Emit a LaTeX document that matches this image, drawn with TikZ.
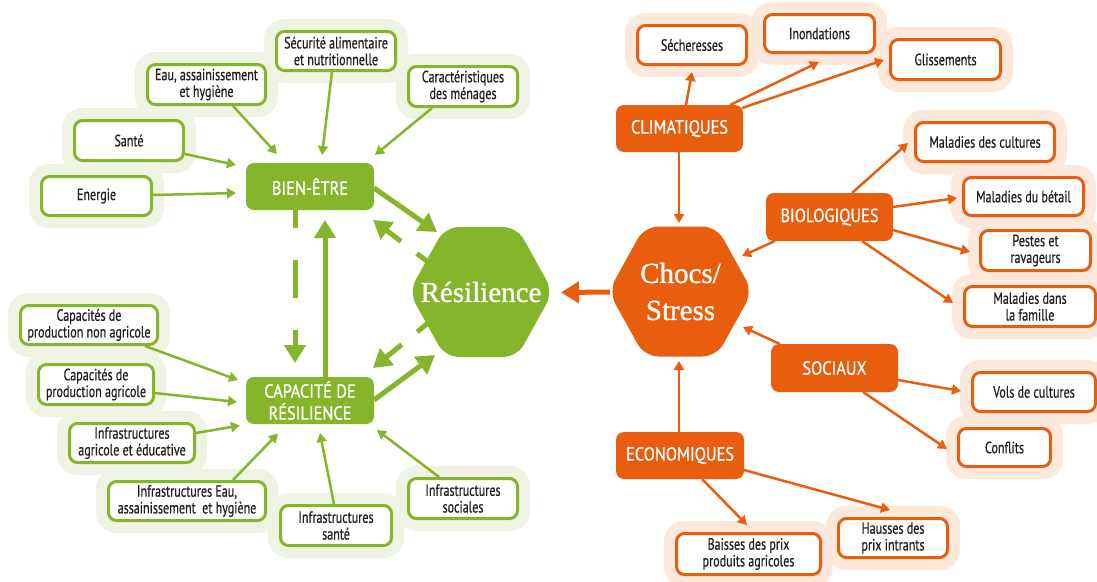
\documentclass[tikz,border=0pt]{standalone}
\usepackage{fontspec}
\setmainfont{PT Sans}[FakeStretch=0.74, FakeBold=0.6]
\newfontfamily\mainlab{PT Sans}[FakeStretch=0.86, FakeBold=0.9]
\newfontfamily\hexfont{Liberation Serif}[FakeBold=1.0]
\usetikzlibrary{calc,arrows.meta,backgrounds}
\definecolor{eugreen}{RGB}{133,181,42}
\definecolor{euorange}{RGB}{233,93,15}
\definecolor{ghalo}{RGB}{238,243,227}
\definecolor{ohalo}{RGB}{253,233,220}
\definecolor{txt}{RGB}{35,31,32}
\begin{document}
\begin{tikzpicture}[x=1pt,y=-1pt,
  sz/.style 2 args={minimum width=#1pt-3pt, minimum height=#2pt-3pt},
  lbox/.style={draw, line width=3pt, fill=white, rounded corners=8pt, align=center,
    font=\fontsize{16.3}{16.7}\selectfont, text=txt, inner sep=0pt, outer sep=0pt},
  gbox/.style={lbox, draw=eugreen},
  obox/.style={lbox, draw=euorange},
  mbox/.style={rounded corners=8pt, align=center, font=\mainlab\fontsize{19}{22}\selectfont,
    text=white, inner sep=0pt, outer sep=0pt},
  gmain/.style={mbox, fill=eugreen},
  omain/.style={mbox, fill=euorange},
  hexlabel/.style={text=white, align=center, inner sep=0pt, font=\hexfont\fontsize{29}{37}\selectfont},
  thinarrow/.style={line width=2.5pt, -{Triangle[length=9pt,width=10pt]}},
  thickarrow/.style={line width=5pt, -{Triangle[length=18pt,width=21pt]}},
]
\useasboundingbox (0,0) rectangle (1097,581);

% ---------- green light boxes
\node[gbox, sz={122}{42}] (sec) at (336,51) {Sécurité alimentaire\\et nutritionnelle};
\node[gbox, sz={121}{43}] (eau) at (206.5,84.5) {Eau, assainissement\\et hygiène};
\node[gbox, sz={112}{43}] (car) at (463,86.5) {Caractéristiques\\des ménages};
\node[gbox, sz={112}{43}] (sante) at (129,140.5) {Santé};
\node[gbox, sz={113}{42}] (ener) at (96.5,196) {Energie};
\node[gbox, sz={140}{42}] (cpna) at (89,325) {Capacités de\\production non agricole};
\node[gbox, sz={118}{43}] (cpa) at (96,384.5) {Capacités de\\production agricole};
\node[gbox, sz={128}{42}] (iae) at (132,443) {Infrastructures\\agricole et éducative};
\node[gbox, sz={160}{42}] (ieau) at (187,501) {Infrastructures Eau,\\assainissement\ \ et hygiène};
\node[gbox, sz={114}{43}] (isan) at (336,525.5) {Infrastructures\\santé};
\node[gbox, sz={112}{43}] (isoc) at (463,498.5) {Infrastructures\\sociales};

% ---------- green main boxes
\node[gmain, sz={131}{50}] (bien) at (310,186.5) {BIEN-ÊTRE};
\node[gmain, sz={131}{50}] (cap) at (310,400.5) {CAPACITÉ DE\\RÉSILIENCE};

% ---------- orange main boxes
\node[omain, sz={130}{50}] (clim) at (679.5,128.5) {CLIMATIQUES};
\node[omain, sz={130}{51}] (bio) at (829.5,217) {BIOLOGIQUES};
\node[omain, sz={130}{51}] (soc) at (834.5,368) {SOCIAUX};
\node[omain, sz={131}{50}] (eco) at (680,455.5) {ECONOMIQUES};

% ---------- orange light boxes
\node[obox, sz={112}{42}] (sech) at (692,45) {Sécheresses};
\node[obox, sz={113}{41}] (inon) at (819.5,33.5) {Inondations};
\node[obox, sz={113}{43}] (gliss) at (945.5,59.5) {Glissements};
\node[obox, sz={142}{42}] (mcult) at (985,142) {Maladies des cultures};
\node[obox, sz={123}{41}] (mbet) at (1023.5,196.5) {Maladies du bétail};
\node[obox, sz={113}{43}] (pest) at (1035.5,250.5) {Pestes et\\ravageurs};
\node[obox, sz={134}{43}] (mfam) at (1030,306.5) {Maladies dans\\la famille};
\node[obox, sz={126}{42}] (vols) at (1034,392) {Vols de cultures};
\node[obox, sz={95}{41}] (conf) at (1004.5,447.5) {Conflits};
\node[obox, sz={147}{44}] (baiss) at (748.5,554) {Baisses des prix\\produits agricoles};
\node[obox, sz={112}{42}] (hauss) at (893,538) {Hausses des\\prix intrants};

% ---------- hexagons
\node[hexlabel] (res) at (481,292) {Résilience};
\node[hexlabel] (chocs) at (680.5,291.5) {Chocs/\\Stress};

\begin{pgfonlayer}{background}
  \foreach \n in {sec,eau,car,sante,ener,cpna,cpa,iae,ieau,isan,isoc}
    \fill[ghalo, rounded corners=20pt] ($(\n.north west)+(-12.5,-12.5)$) rectangle ($(\n.south east)+(12.5,12.5)$);
  \foreach \n in {sech,inon,gliss,mcult,mbet,pest,mfam,vols,conf,baiss,hauss}
    \fill[ohalo, rounded corners=20pt] ($(\n.north west)+(-12.5,-12.5)$) rectangle ($(\n.south east)+(12.5,12.5)$);
  \foreach \h/\c in {res/eugreen,chocs/euorange}
    \fill[\c, rounded corners=14pt] ($(\h.center)+(-72,0)$) -- ($(\h.center)+(-36,-65)$) -- ($(\h.center)+(36,-65)$)
      -- ($(\h.center)+(72,0)$) -- ($(\h.center)+(36,65)$) -- ($(\h.center)+(-36,65)$) -- cycle;
\end{pgfonlayer}

% ---------- green thin connectors
\begin{scope}[eugreen]
\draw[thinarrow] ($(sec.center)+(-4,21)$) -- ($(bien.center)+(12,-31.5)$);
\draw[thinarrow] ($(eau.center)+(26.5,21.5)$) -- ($(bien.center)+(-33,-32.5)$);
\draw[thinarrow] ($(sante.center)+(56,13.5)$) -- ($(bien.center)+(-74,-21.5)$);
\draw[thinarrow] ($(ener.center)+(56.5,-1)$) -- ($(bien.center)+(-74,6.5)$);
\draw[thinarrow] ($(car.center)+(-31,21.5)$) -- ($(bien.center)+(65,-31.5)$);
\draw[thinarrow] ($(cpna.center)+(56,21)$) -- ($(cap.center)+(-72,-20.5)$);
\draw[thinarrow] ($(cpa.center)+(59,8.5)$) -- ($(cap.center)+(-73,1.5)$);
\draw[thinarrow] ($(iae.center)+(64,-10)$) -- ($(cap.center)+(-70,25)$);
\draw[thinarrow] ($(ieau.center)+(46,-21)$) -- ($(cap.center)+(-32,33)$);
\draw[thinarrow] ($(isan.center)+(-2,-21.5)$) -- ($(cap.center)+(10,32.5)$);
\draw[thinarrow] ($(isoc.center)+(-24,-21.5)$) -- ($(cap.center)+(67,29.5)$);
% thick
\draw[thickarrow] ($(bien.center)+(64,1.5)$) -- ($(res.center)+(-44,-60)$);
\draw[thickarrow] ($(cap.center)+(64,-0.5)$) -- ($(res.center)+(-46,63)$);
\draw[thickarrow, dash pattern=on 14pt off 20pt on 40pt off 10pt] ($(res.center)+(-53,-30)$) -- ($(bien.center)+(63,33.5)$);
\draw[thickarrow, dash pattern=on 14pt off 20pt on 40pt off 10pt] ($(res.center)+(-53,31)$) -- ($(cap.center)+(63,-32.5)$);
\draw[thickarrow, dash pattern=on 18pt off 32pt on 38pt off 32pt on 60pt off 10pt] ($(bien.center)+(-15,23.5)$) -- ($(cap.center)+(-15,-37.5)$);
\draw[thickarrow] ($(cap.center)+(15,-23.5)$) -- ($(bien.center)+(15,33.5)$);
\end{scope}

% ---------- orange connectors
\begin{scope}[euorange]
\draw[thickarrow] ($(chocs.center)+(-70.5,0.5)$) -- ($(res.center)+(80,0.5)$);
\draw[thinarrow] ($(clim.center)+(6.5,-23.5)$) -- ($(sech.center)+(0,27)$);
\draw[thinarrow] ($(clim.center)+(50.5,-23.5)$) -- ($(inon.center)+(-0.5,28.5)$);
\draw[thinarrow] ($(clim.center)+(62.5,-20.5)$) -- ($(gliss.center)+(-61.5,0.5)$);
\draw[thinarrow] ($(clim.center)+(-0.5,23.5)$) -- ($(chocs.center)+(-1.5,-68.5)$);
\draw[thinarrow] ($(bio.center)+(22.5,-24)$) -- ($(mcult.center)+(-77,1)$);
\draw[thinarrow] ($(bio.center)+(63.5,-10)$) -- ($(mbet.center)+(-66.5,1.5)$);
\draw[thinarrow] ($(bio.center)+(63.5,13)$) -- ($(pest.center)+(-65.5,1.5)$);
\draw[thinarrow] ($(bio.center)+(32.5,24)$) -- ($(mfam.center)+(-77,-3.5)$);
\draw[thinarrow] ($(bio.center)+(-54.5,24)$) -- ($(chocs.center)+(61.5,-35.5)$);
\draw[thinarrow] ($(soc.center)+(-54.5,-24)$) -- ($(chocs.center)+(62.5,35.5)$);
\draw[thinarrow] ($(soc.center)+(63.5,12)$) -- ($(vols.center)+(-73,-1)$);
\draw[thinarrow] ($(soc.center)+(28.5,24)$) -- ($(conf.center)+(-57.5,1.5)$);
\draw[thinarrow] ($(eco.center)+(-1,-23.5)$) -- ($(chocs.center)+(-1.5,69.5)$);
\draw[thinarrow] ($(eco.center)+(22,23.5)$) -- ($(baiss.center)+(-1.5,-29)$);
\draw[thinarrow] ($(eco.center)+(64,14.5)$) -- ($(hauss.center)+(-3,-28)$);
\end{scope}
\end{tikzpicture}
\end{document}
